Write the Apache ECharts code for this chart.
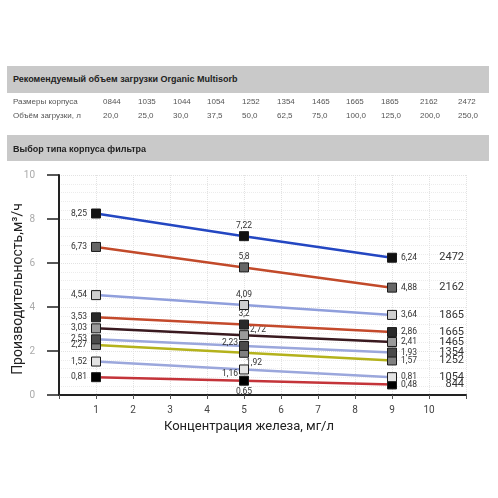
<!DOCTYPE html>
<html><head><meta charset="utf-8">
<script src="https://cdn.jsdelivr.net/npm/echarts@6/dist/echarts.min.js"></script>
<style>
html,body{margin:0;padding:0;background:#fff;width:498px;height:498px;overflow:hidden;font-family:"Liberation Sans",Arial,sans-serif;}
#wrap{position:absolute;left:0;top:0;width:498px;height:498px;}
#chart{position:absolute;left:0;top:0;width:498px;height:498px;}
.bar{position:absolute;left:7px;width:482px;background:#c9c9c9;font-weight:bold;font-size:9px;color:#222;box-sizing:border-box;padding-left:6px;}
.row{position:absolute;left:0;width:498px;font-size:8px;color:#555;height:10px;}
.row span{position:absolute;top:0;white-space:nowrap;}
</style></head>
<body>
<div id="wrap">
<div id="chart"></div>
<div class="bar" id="h1" style="top:66px;height:27px;line-height:27px;"></div>
<div class="row" id="r1" style="top:97px;"></div>
<div class="row" id="r2" style="top:111px;"></div>
<div class="bar" id="h2" style="top:135px;height:26px;line-height:28px;"></div>
</div>
<script>
// ---- table data ----
var tableTitle = "Рекомендуемый объем загрузки Organic Multisorb";
var sectionTitle = "Выбор типа корпуса фильтра";
var rowLabels = ["Размеры корпуса", "Объём загрузки, л"];
var housingSizes = ["0844","1035","1044","1054","1252","1354","1465","1665","1865","2162","2472"];
var loadVolumes = ["20,0","25,0","30,0","37,5","50,0","62,5","75,0","100,0","125,0","200,0","250,0"];

// ---- chart data ----
var xValues = [1, 5, 9];
var seriesNames = ["2472","2162","1865","1665","1465","1354","1252","1054","844"];
var s2472 = [8.25, 7.22, 6.24];
var s2162 = [6.73, 5.8, 4.88];
var s1865 = [4.54, 4.09, 3.64];
var s1665 = [3.53, 3.2, 2.86];
var s1465 = [3.03, 2.72, 2.41];
var s1354 = [2.53, 2.23, 1.93];
var s1252 = [2.27, 1.92, 1.57];
var s1054 = [1.52, 1.16, 0.81];
var s844  = [0.81, 0.65, 0.48];
var xTicks = [1,2,3,4,5,6,7,8,9,10];
var yTicks = [0,2,4,6,8,10];
var yTitle = "Производительность,м³/ч";
var xTitle = "Концентрация железа, мг/л";

// ---- table render ----
var colX = [103,138,173,207,242,277,312,346,381,420,458];
document.getElementById('h1').textContent = tableTitle;
document.getElementById('h2').textContent = sectionTitle;
function fillRow(id, label, vals){
  var r = document.getElementById(id);
  var s = document.createElement('span'); s.style.left='13px'; s.textContent=label; r.appendChild(s);
  vals.forEach(function(v,i){ var e=document.createElement('span'); e.style.left=colX[i]+'px'; e.textContent=v; r.appendChild(e);});
}
fillRow('r1', rowLabels[0], housingSizes);
fillRow('r2', rowLabels[1], loadVolumes);

// ---- chart render ----
var allSeries = [s2472,s2162,s1865,s1665,s1465,s1354,s1252,s1054,s844];
var lineColors = ['#2447c2','#c24a2a','#909fdc','#c44a2c','#3a1a20','#9ba7dc','#b4b21c','#9ba7dc','#c4343a'];
var markColors = ['#111','#666','#cfcfcf','#2a2a2a','#9a9a9a','#4a4a4a','#808080','#e4e4e4','#000'];
var midPos = [
  {position:'top', offset:[0,2]},
  {position:'top', offset:[0,2]},
  {position:'top', offset:[0,2]},
  {position:'top', offset:[0,2]},
  {position:'right', offset:[-2,-5]},
  {position:'left', offset:[2,-3]},
  {position:'bottom', offset:[10,-2]},
  {position:'left', offset:[2,4]},
  {position:'bottom', offset:[0,-1]}
];
function fmt(v){ return String(v).replace('.', ','); }
var series = allSeries.map(function(vals, si){
  return {
    type:'line', name: seriesNames[si], z: 10-si,
    data: vals.map(function(v,i){
      var lbl = i===0 ? {position:'left', distance:4} : (i===2 ? {position:'right', distance:4} : {position:midPos[si].position, offset:midPos[si].offset, distance:3});
      return {value:[xValues[i], v], label:lbl};
    }),
    symbol:'rect', symbolSize:9,
    lineStyle:{color:lineColors[si], width:2.5},
    itemStyle:{color:markColors[si], borderColor:'#1a1a1a', borderWidth:1},
    label:{show:true, color:'#333', fontSize:8.5, fontFamily:'Roboto', formatter:function(p){return fmt(p.value[1]);}},
    endLabel:{show:true, formatter:seriesNames[si], distance:72, align:'right', color:'#333', fontSize:11, fontFamily:'Roboto'},
    emphasis:{disabled:true}, animation:false
  };
});

var chart = echarts.init(document.getElementById('chart'), null, {renderer:'canvas'});
chart.setOption({
  animation:false,
  grid:{left:59, top:175, width:407, height:220, containLabel:false, outerBoundsMode:'none'},
  xAxis:{type:'value', min:0, max:11, interval:1,
    axisLine:{show:true, lineStyle:{color:'#222', width:2}},
    axisTick:{show:true, length:4, lineStyle:{color:'#555'}},
    axisLabel:{margin:10, color:'#444', fontSize:10, fontFamily:'Roboto',
      formatter:function(v){ return xTicks.indexOf(v)>=0 ? String(v) : ''; }},
    splitLine:{show:true, lineStyle:{color:'#e2e2e2', type:'dotted'}}
  },
  yAxis:{type:'value', min:0, max:10, interval:2,
    axisLine:{show:true, lineStyle:{color:'#222', width:2}},
    axisTick:{show:true, length:12, lineStyle:{color:'#222', width:1.5}},
    axisLabel:{margin:24, color:'#aaa', fontSize:10, fontFamily:'Roboto',
      formatter:function(v){ return yTicks.indexOf(v)>=0 ? String(v) : ''; }},
    splitLine:{show:true, lineStyle:{color:'#e2e2e2', type:'dotted'}},
    minorTick:{show:false}, minorSplitLine:{show:true, lineStyle:{color:'#ececec', type:'dotted'}}
  },
  graphic:[
    {type:'text', x:249, y:427, style:{text:xTitle, fontSize:13, fill:'#222', fontFamily:'Roboto', align:'center', verticalAlign:'middle'}},
    {type:'text', x:18.5, y:289, rotation:Math.PI/2, style:{text:yTitle, fontSize:14, fill:'#222', fontFamily:'Roboto', align:'center', verticalAlign:'middle'}}
  ],
  series: series
});
</script>
</body></html>
